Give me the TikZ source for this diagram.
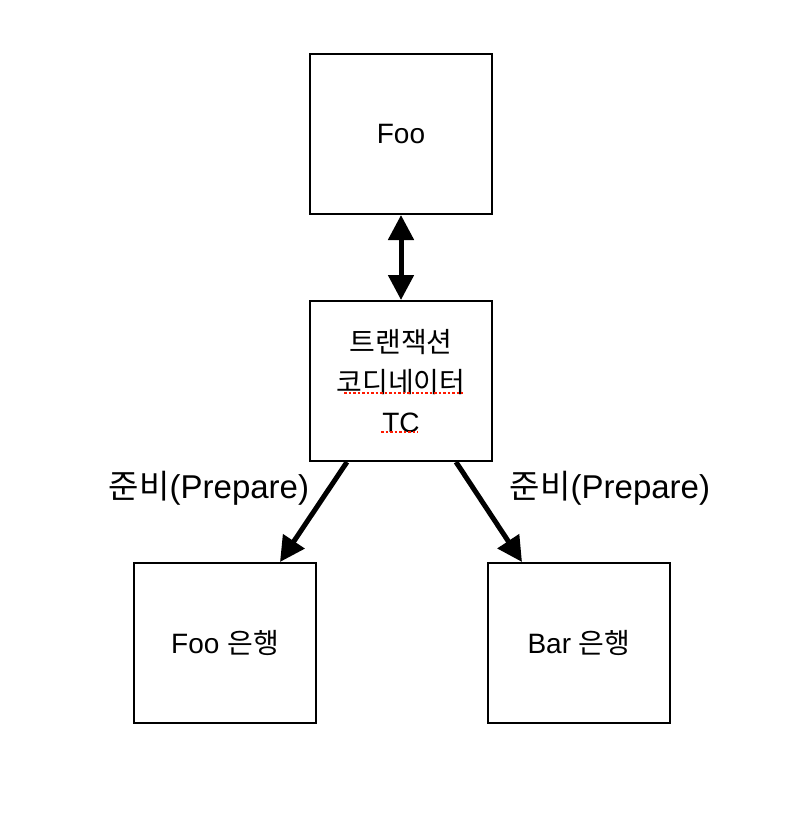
\documentclass[tikz,border=0pt]{standalone}
\usepackage{fontspec}
\setmainfont{Liberation Sans}
\newfontfamily\kr{Noto Sans CJK KR}
\usetikzlibrary{arrows.meta}

\begin{document}
\begin{tikzpicture}[x=1pt,y=-1pt,
    box/.style={shape=rectangle,
      draw=black,
      line width=2pt,
      minimum width=182pt,
      minimum height=160pt,
      align=center,
      font=\fontsize{28}{40}\selectfont},
    prep/.style={font=\fontsize{33}{38}\selectfont},
    link/.style={line width=5pt,draw=black},
    spell/.style={draw=red!80!orange,line width=2.5pt,dash pattern=on 2.5pt off 2pt}]
    \useasboundingbox (0,0) rectangle (794,824);

    \node[box] (foo) at (401,134) {Foo};
    \node[box] (tc) at (401,381) {{\kr 트랜잭션}\\{\kr 코디네이터}\\TC};
    \node[box] (foobank) at (225,643) {Foo {\kr 은행}};
    \node[box] (barbank) at (579,643) {Bar {\kr 은행}};

    \draw[link,{Triangle[length=25pt,width=25pt]}-{Triangle[length=25pt,width=25pt]}] (foo.south) -- (tc.north);
    \draw[link,-{Triangle[length=25pt,width=25pt]}] ([xshift=-54pt]tc.south) -- ([xshift=55pt]foobank.north);
    \draw[link,-{Triangle[length=25pt,width=25pt]}] ([xshift=55pt]tc.south) -- ([xshift=-57pt]barbank.north);

    \node[prep] (lprep) at (209,488) {{\kr 준비}(Prepare)};
    \node[prep] (rprep) at (610,488) {{\kr 준비}(Prepare)};

    % spell check marks
    \draw[spell] ([xshift=-57pt,yshift=-12pt]tc.center) -- ++(119,0);
    \draw[spell] ([xshift=-20pt,yshift=-51pt]tc.center) -- ++(37,0);
\end{tikzpicture}
\end{document}
